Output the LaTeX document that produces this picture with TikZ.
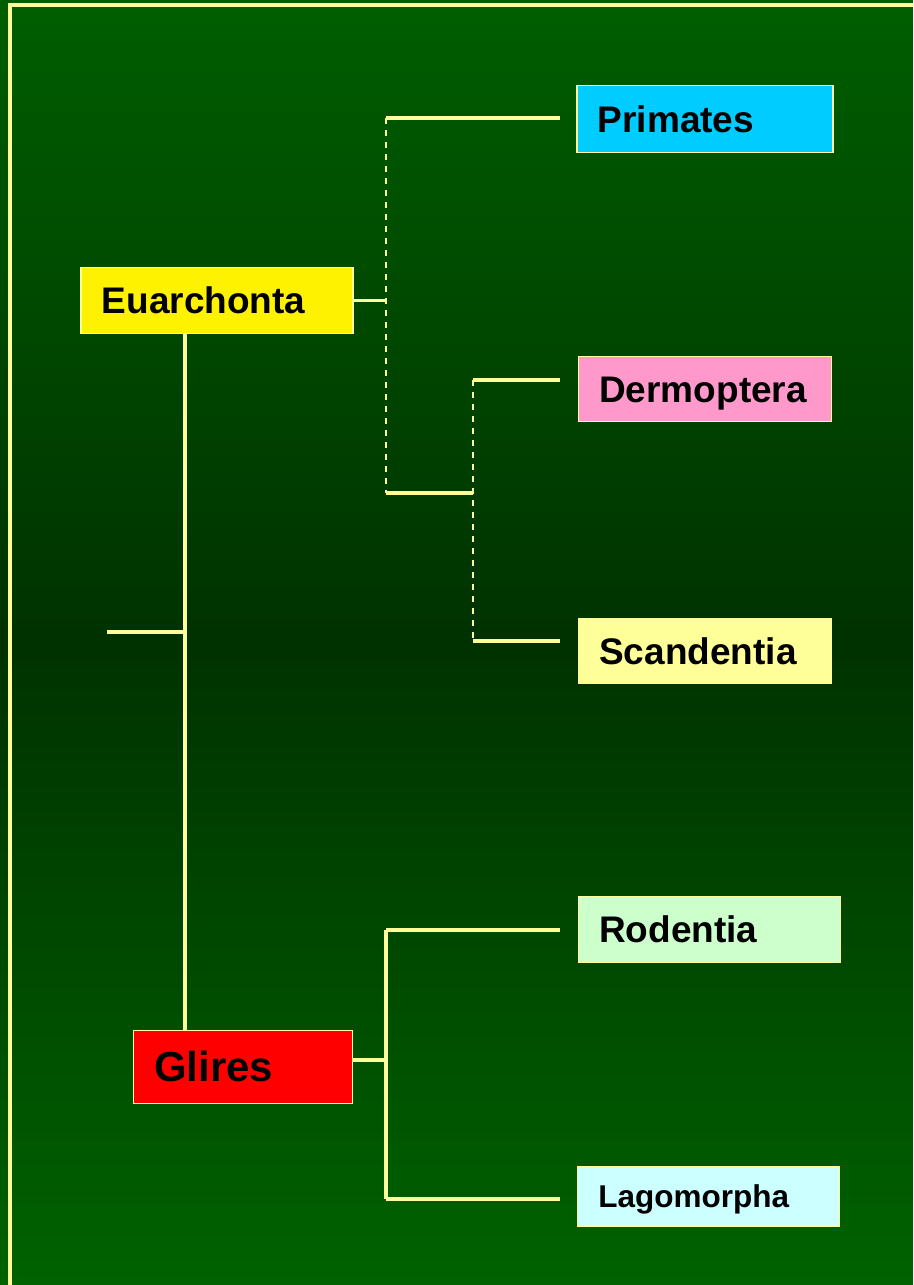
\documentclass[tikz,border=0pt]{standalone}
\usepackage{fontspec}
\setmainfont{Liberation Sans}
\definecolor{lyel}{RGB}{255,255,153}
\definecolor{bgtop}{RGB}{0,94,0}
\definecolor{bgmid}{RGB}{0,50,0}
\definecolor{bgbot}{RGB}{0,98,0}
\definecolor{cprim}{RGB}{0,204,255}
\definecolor{cderm}{RGB}{255,153,204}
\definecolor{cscan}{RGB}{255,255,153}
\definecolor{crod}{RGB}{204,255,204}
\definecolor{clago}{RGB}{204,255,255}
\begin{document}
\begin{tikzpicture}[x=1pt,y=-1pt,
  box/.style={draw=lyel, line width=1.5pt, anchor=north west, inner xsep=21pt, inner ysep=0pt,
    align=left, font=\bfseries\fontsize{37}{40}\selectfont, text height=26.5pt, text depth=0pt},
  conn/.style={lyel, line width=3.5pt},
  dconn/.style={lyel, line width=2pt, dash pattern=on 6pt off 6pt}]
\useasboundingbox (0,0) rectangle (913,1285);
\clip (0,0) rectangle (913,1285);
% background gradient: light top, dark middle, light bottom
\foreach \i in {0,...,79}{
  \pgfmathsetmacro\p{100*\i/79}
  \fill[bgmid!\p!bgtop] (0,{\i*8.035}) rectangle (913,{(\i+1)*8.035+0.6});
}
\foreach \i in {0,...,79}{
  \pgfmathsetmacro\p{100*\i/79}
  \fill[bgbot!\p!bgmid] (0,{642.5+\i*8.035}) rectangle (913,{642.5+(\i+1)*8.035+0.6});
}
\draw[lyel, line width=4pt] (1000,5.3) -- (10.3,5.3) -- (10.3,1300);

% boxes
\node[box, fill=cprim, minimum height=67pt, text width=214pt] (prim) at (576,84.5) {Primates};
\node[box, fill=yellow, minimum height=66pt, text width=230pt] (euar) at (80,266.5) {Euarchonta};
\node[box, fill=cderm, minimum height=65pt, text width=211pt] (derm) at (577.5,355.5) {Dermoptera};
\node[box, fill=cscan, minimum height=65pt, text width=211pt] (scan) at (577.5,617.5) {Scandentia};
\node[box, fill=crod, minimum height=66pt, text width=220pt] (rode) at (577.5,895.5) {Rodentia};
\node[box, fill=red, minimum height=73pt, text width=177pt, font=\bfseries\fontsize{42}{45}\selectfont, text height=30pt] (glir) at (132.5,1029.5) {Glires};
\node[box, fill=clago, minimum height=60pt, text width=220pt, font=\bfseries\fontsize{31.5}{34}\selectfont, text height=22.5pt] (lago) at (576.5,1165.5) {Lagomorpha};

% junction coordinates
\coordinate (e1) at (386,299.5);
\coordinate (p1) at (386,118);
\coordinate (p2) at (560,118);
\coordinate (d0) at (386,493);
\coordinate (d1) at (473,493);
\coordinate (dm1) at (473,380);
\coordinate (dm2) at (560,380);
\coordinate (sc1) at (473,641);
\coordinate (sc2) at (560,641);
\coordinate (root) at (107,632);
\coordinate (rj) at (185,632);
\coordinate (g2) at (386,1060);
\coordinate (r1) at (386,930);
\coordinate (r2) at (560,930);
\coordinate (l1) at (386,1199);
\coordinate (l2) at (560,1199);

% connectors
\draw[conn] (euar.east) -- (euar.east -| e1);
\draw[dconn] (p1) -- (d0);
\draw[conn] (p1) -- (p2);
\draw[conn] (d0) -- (d1);
\draw[dconn] (dm1) -- (sc1);
\draw[conn] (dm1) -- (dm2);
\draw[conn] (sc1) -- (sc2);
\draw[conn] (euar.south -| rj) -- (glir.north -| rj);
\draw[conn] (root) -- (rj);
\draw[conn] (g2 -| glir.east) -- (g2);
\draw[conn] (r1) -- (l1);
\draw[conn] (r1) -- (r2);
\draw[conn] (l1) -- (l2);
\end{tikzpicture}
\end{document}
